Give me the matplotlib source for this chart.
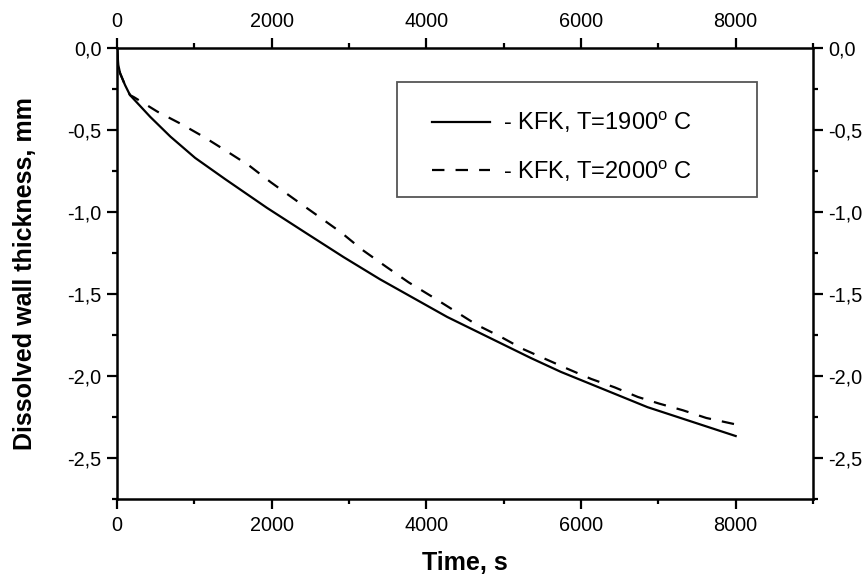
import matplotlib
matplotlib.use("Agg")
import matplotlib.pyplot as plt
from matplotlib.ticker import MultipleLocator, FuncFormatter
from matplotlib.patches import Rectangle

plt.rcParams['font.family'] = ['Liberation Sans', 'DejaVu Sans']
plt.rcParams['mathtext.fontset'] = 'custom'
plt.rcParams['mathtext.rm'] = 'Liberation Sans'

# Dissolved wall thickness vs time, T = 1900 C
time_1900 = [0, 17, 40, 104, 168, 430, 690, 1010, 1400, 1940, 2450, 2930,
             3400, 4270, 5350, 5740, 6860, 8000]
wall_1900 = [0.0, -0.104, -0.154, -0.226, -0.287, -0.42, -0.54, -0.67,
             -0.80, -0.975, -1.13, -1.275, -1.41, -1.64, -1.89, -1.975,
             -2.19, -2.366]

# Dissolved wall thickness vs time, T = 2000 C
time_2000 = [0, 17, 40, 104, 168, 220, 522, 824, 1126, 1407, 1709, 1990,
             2291, 2593, 2896, 3176, 3478, 3771, 4073, 4363, 4656, 4958,
             5247, 5830, 6132, 6434, 6736, 7016, 7318, 7621, 7980]
wall_2000 = [0.0, -0.104, -0.154, -0.226, -0.287, -0.30, -0.388, -0.462,
             -0.543, -0.626, -0.717, -0.819, -0.921, -1.022, -1.124, -1.232,
             -1.333, -1.429, -1.516, -1.602, -1.689, -1.76, -1.835, -1.957,
             -2.018, -2.069, -2.128, -2.169, -2.209, -2.256, -2.293]

labels = [r"- KFK, T=1900$^{\mathrm{o}}$ C", r"- KFK, T=2000$^{\mathrm{o}}$ C"]
x_label = "Time, s"
y_label = "Dissolved wall thickness, mm"

fig = plt.figure(figsize=(8.68, 5.86), dpi=100)
ax = fig.add_axes([117 / 868, 87 / 586, 696 / 868, 451 / 586])

ax.plot(time_1900, wall_1900, color="black", lw=1.6, label=labels[0])
ax.plot(time_2000, wall_2000, color="black", lw=1.6,
        linestyle=(0, (5.6, 5.0)), label=labels[1])

ax.set_xlim(0, 9000)
ax.set_ylim(-2.75, 0)

ax.xaxis.set_major_locator(MultipleLocator(2000))
ax.xaxis.set_minor_locator(MultipleLocator(1000))
ax.yaxis.set_major_locator(MultipleLocator(0.5))
ax.yaxis.set_minor_locator(MultipleLocator(0.25))

ax.xaxis.set_major_formatter(FuncFormatter(lambda v, p: f"{v:.0f}"))
ax.yaxis.set_major_formatter(
    FuncFormatter(lambda v, p: f"{v:.1f}".replace(".", ",").replace("-0,0", "0,0")))

for s in ax.spines.values():
    s.set_linewidth(1.8)

ax.tick_params(which="both", direction="out", top=True, right=True,
               labeltop=True, labelright=True, width=1.6, labelsize=14.3)
ax.tick_params(which="major", length=7)
ax.tick_params(which="minor", length=3.5)
ax.tick_params(axis="x", which="major", pad=5.0)
ax.tick_params(axis="y", which="major", pad=4.0)

ax.set_xlabel(x_label, fontsize=18, fontweight="bold", labelpad=12)
ax.set_ylabel(y_label, fontsize=18, fontweight="bold", labelpad=22)

# legend frame
ax.add_patch(Rectangle((0.402, 0.6696), 0.5175, 0.255, transform=ax.transAxes,
                       fill=False, edgecolor="#555555", lw=1.3, zorder=5))
leg = ax.legend(loc="center left", bbox_to_anchor=((431.7 - 117) / 696,
                                                   (499 - 146.5) / 451),
                frameon=False, fontsize=17, handlelength=2.45,
                handletextpad=0.55, labelspacing=0.95, borderpad=0,
                borderaxespad=0)

fig.savefig("out.png", dpi=100)
